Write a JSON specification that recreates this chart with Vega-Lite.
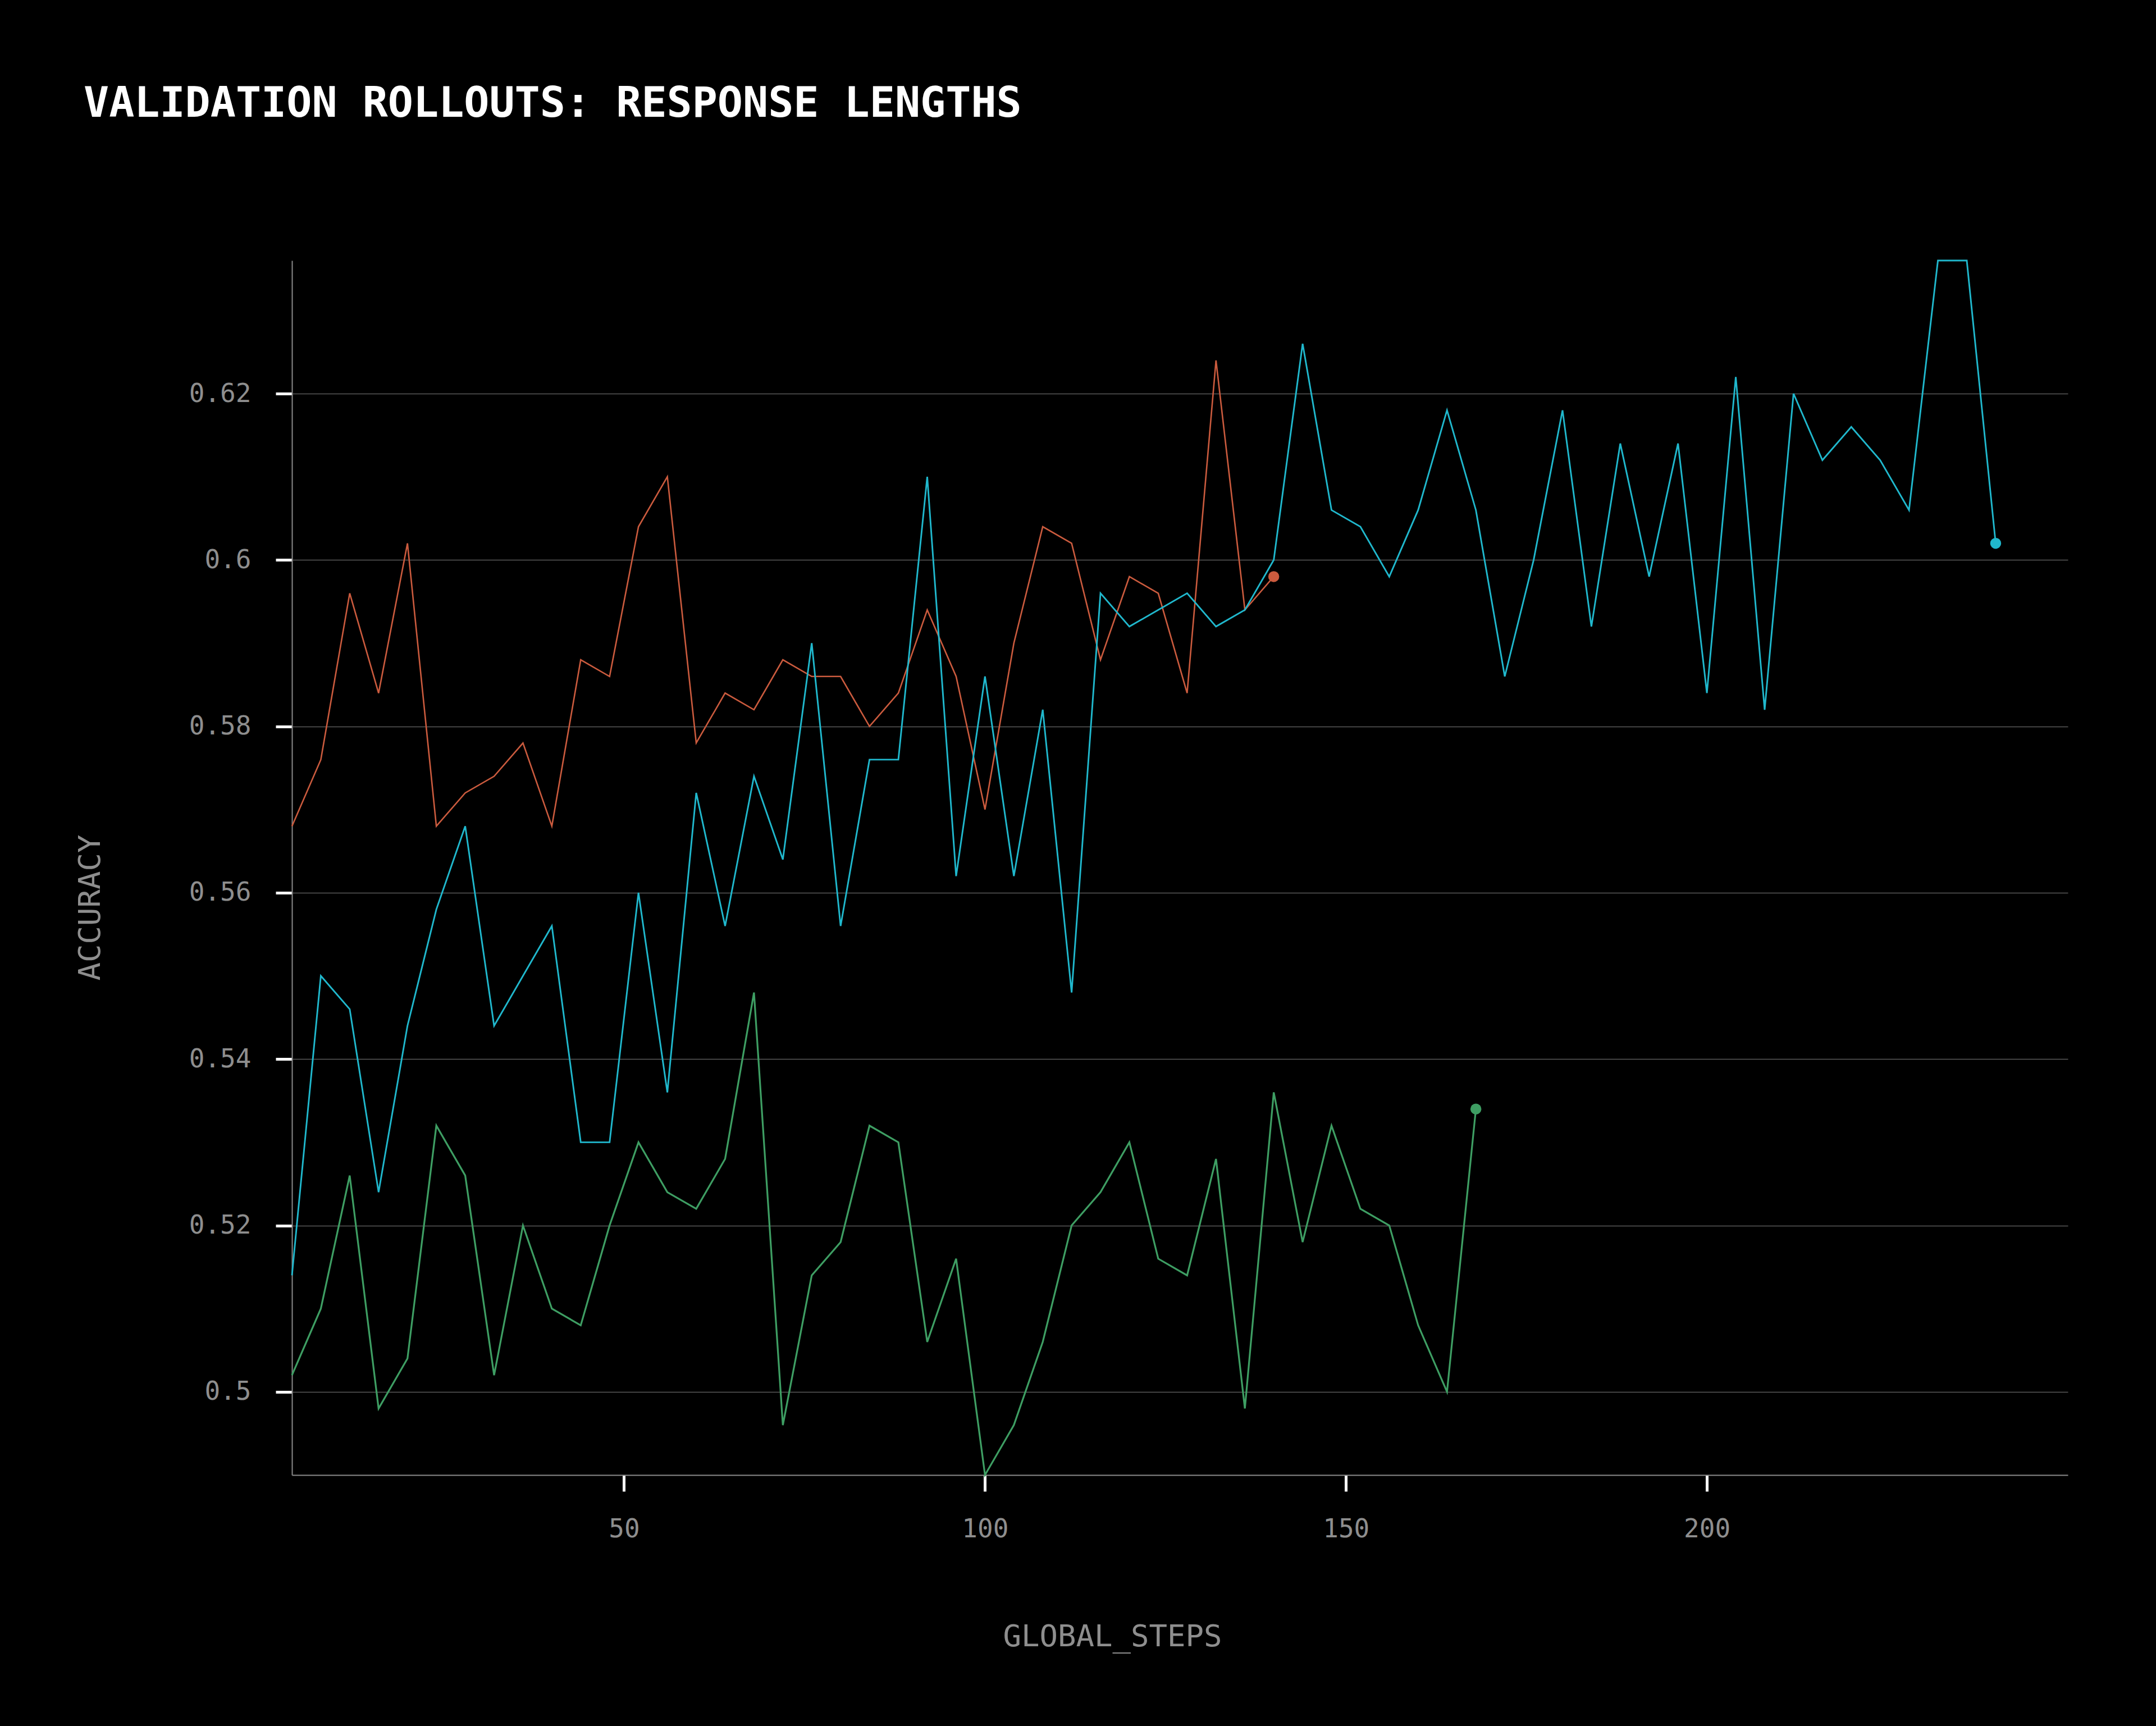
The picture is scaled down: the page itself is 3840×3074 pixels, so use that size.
{
  "$schema": "https://vega.github.io/schema/vega-lite/v6.json",
  "width": 3163,
  "height": 2163,
  "autosize": {"type": "none"},
  "padding": {"left": 520, "top": 464, "right": 157, "bottom": 447},
  "background": "#000000",
  "title": {
    "text": "VALIDATION ROLLOUTS: RESPONSE LENGTHS",
    "anchor": "start",
    "frame": "group",
    "dx": -371,
    "offset": 175,
    "baseline": "alphabetic",
    "font": "DejaVu Sans Mono",
    "fontSize": 75,
    "fontWeight": "bold",
    "color": "#ffffff"
  },
  "data": {
    "values": [
      {"series": "run_a", "step": 4, "accuracy": 0.568},
      {"series": "run_a", "step": 8, "accuracy": 0.576},
      {"series": "run_a", "step": 12, "accuracy": 0.596},
      {"series": "run_a", "step": 16, "accuracy": 0.584},
      {"series": "run_a", "step": 20, "accuracy": 0.602},
      {"series": "run_a", "step": 24, "accuracy": 0.568},
      {"series": "run_a", "step": 28, "accuracy": 0.572},
      {"series": "run_a", "step": 32, "accuracy": 0.574},
      {"series": "run_a", "step": 36, "accuracy": 0.578},
      {"series": "run_a", "step": 40, "accuracy": 0.568},
      {"series": "run_a", "step": 44, "accuracy": 0.588},
      {"series": "run_a", "step": 48, "accuracy": 0.586},
      {"series": "run_a", "step": 52, "accuracy": 0.604},
      {"series": "run_a", "step": 56, "accuracy": 0.610},
      {"series": "run_a", "step": 60, "accuracy": 0.578},
      {"series": "run_a", "step": 64, "accuracy": 0.584},
      {"series": "run_a", "step": 68, "accuracy": 0.582},
      {"series": "run_a", "step": 72, "accuracy": 0.588},
      {"series": "run_a", "step": 76, "accuracy": 0.586},
      {"series": "run_a", "step": 80, "accuracy": 0.586},
      {"series": "run_a", "step": 84, "accuracy": 0.580},
      {"series": "run_a", "step": 88, "accuracy": 0.584},
      {"series": "run_a", "step": 92, "accuracy": 0.594},
      {"series": "run_a", "step": 96, "accuracy": 0.586},
      {"series": "run_a", "step": 100, "accuracy": 0.570},
      {"series": "run_a", "step": 104, "accuracy": 0.590},
      {"series": "run_a", "step": 108, "accuracy": 0.604},
      {"series": "run_a", "step": 112, "accuracy": 0.602},
      {"series": "run_a", "step": 116, "accuracy": 0.588},
      {"series": "run_a", "step": 120, "accuracy": 0.598},
      {"series": "run_a", "step": 124, "accuracy": 0.596},
      {"series": "run_a", "step": 128, "accuracy": 0.584},
      {"series": "run_a", "step": 132, "accuracy": 0.624},
      {"series": "run_a", "step": 136, "accuracy": 0.594},
      {"series": "run_a", "step": 140, "accuracy": 0.598},
      {"series": "run_b", "step": 4, "accuracy": 0.514},
      {"series": "run_b", "step": 8, "accuracy": 0.550},
      {"series": "run_b", "step": 12, "accuracy": 0.546},
      {"series": "run_b", "step": 16, "accuracy": 0.524},
      {"series": "run_b", "step": 20, "accuracy": 0.544},
      {"series": "run_b", "step": 24, "accuracy": 0.558},
      {"series": "run_b", "step": 28, "accuracy": 0.568},
      {"series": "run_b", "step": 32, "accuracy": 0.544},
      {"series": "run_b", "step": 36, "accuracy": 0.550},
      {"series": "run_b", "step": 40, "accuracy": 0.556},
      {"series": "run_b", "step": 44, "accuracy": 0.530},
      {"series": "run_b", "step": 48, "accuracy": 0.530},
      {"series": "run_b", "step": 52, "accuracy": 0.560},
      {"series": "run_b", "step": 56, "accuracy": 0.536},
      {"series": "run_b", "step": 60, "accuracy": 0.572},
      {"series": "run_b", "step": 64, "accuracy": 0.556},
      {"series": "run_b", "step": 68, "accuracy": 0.574},
      {"series": "run_b", "step": 72, "accuracy": 0.564},
      {"series": "run_b", "step": 76, "accuracy": 0.590},
      {"series": "run_b", "step": 80, "accuracy": 0.556},
      {"series": "run_b", "step": 84, "accuracy": 0.576},
      {"series": "run_b", "step": 88, "accuracy": 0.576},
      {"series": "run_b", "step": 92, "accuracy": 0.610},
      {"series": "run_b", "step": 96, "accuracy": 0.562},
      {"series": "run_b", "step": 100, "accuracy": 0.586},
      {"series": "run_b", "step": 104, "accuracy": 0.562},
      {"series": "run_b", "step": 108, "accuracy": 0.582},
      {"series": "run_b", "step": 112, "accuracy": 0.548},
      {"series": "run_b", "step": 116, "accuracy": 0.596},
      {"series": "run_b", "step": 120, "accuracy": 0.592},
      {"series": "run_b", "step": 124, "accuracy": 0.594},
      {"series": "run_b", "step": 128, "accuracy": 0.596},
      {"series": "run_b", "step": 132, "accuracy": 0.592},
      {"series": "run_b", "step": 136, "accuracy": 0.594},
      {"series": "run_b", "step": 140, "accuracy": 0.600},
      {"series": "run_b", "step": 144, "accuracy": 0.626},
      {"series": "run_b", "step": 148, "accuracy": 0.606},
      {"series": "run_b", "step": 152, "accuracy": 0.604},
      {"series": "run_b", "step": 156, "accuracy": 0.598},
      {"series": "run_b", "step": 160, "accuracy": 0.606},
      {"series": "run_b", "step": 164, "accuracy": 0.618},
      {"series": "run_b", "step": 168, "accuracy": 0.606},
      {"series": "run_b", "step": 172, "accuracy": 0.586},
      {"series": "run_b", "step": 176, "accuracy": 0.600},
      {"series": "run_b", "step": 180, "accuracy": 0.618},
      {"series": "run_b", "step": 184, "accuracy": 0.592},
      {"series": "run_b", "step": 188, "accuracy": 0.614},
      {"series": "run_b", "step": 192, "accuracy": 0.598},
      {"series": "run_b", "step": 196, "accuracy": 0.614},
      {"series": "run_b", "step": 200, "accuracy": 0.584},
      {"series": "run_b", "step": 204, "accuracy": 0.622},
      {"series": "run_b", "step": 208, "accuracy": 0.582},
      {"series": "run_b", "step": 212, "accuracy": 0.620},
      {"series": "run_b", "step": 216, "accuracy": 0.612},
      {"series": "run_b", "step": 220, "accuracy": 0.616},
      {"series": "run_b", "step": 224, "accuracy": 0.612},
      {"series": "run_b", "step": 228, "accuracy": 0.606},
      {"series": "run_b", "step": 232, "accuracy": 0.636},
      {"series": "run_b", "step": 236, "accuracy": 0.636},
      {"series": "run_b", "step": 240, "accuracy": 0.602},
      {"series": "run_c", "step": 4, "accuracy": 0.502},
      {"series": "run_c", "step": 8, "accuracy": 0.510},
      {"series": "run_c", "step": 12, "accuracy": 0.526},
      {"series": "run_c", "step": 16, "accuracy": 0.498},
      {"series": "run_c", "step": 20, "accuracy": 0.504},
      {"series": "run_c", "step": 24, "accuracy": 0.532},
      {"series": "run_c", "step": 28, "accuracy": 0.526},
      {"series": "run_c", "step": 32, "accuracy": 0.502},
      {"series": "run_c", "step": 36, "accuracy": 0.520},
      {"series": "run_c", "step": 40, "accuracy": 0.510},
      {"series": "run_c", "step": 44, "accuracy": 0.508},
      {"series": "run_c", "step": 48, "accuracy": 0.520},
      {"series": "run_c", "step": 52, "accuracy": 0.530},
      {"series": "run_c", "step": 56, "accuracy": 0.524},
      {"series": "run_c", "step": 60, "accuracy": 0.522},
      {"series": "run_c", "step": 64, "accuracy": 0.528},
      {"series": "run_c", "step": 68, "accuracy": 0.548},
      {"series": "run_c", "step": 72, "accuracy": 0.496},
      {"series": "run_c", "step": 76, "accuracy": 0.514},
      {"series": "run_c", "step": 80, "accuracy": 0.518},
      {"series": "run_c", "step": 84, "accuracy": 0.532},
      {"series": "run_c", "step": 88, "accuracy": 0.530},
      {"series": "run_c", "step": 92, "accuracy": 0.506},
      {"series": "run_c", "step": 96, "accuracy": 0.516},
      {"series": "run_c", "step": 100, "accuracy": 0.490},
      {"series": "run_c", "step": 104, "accuracy": 0.496},
      {"series": "run_c", "step": 108, "accuracy": 0.506},
      {"series": "run_c", "step": 112, "accuracy": 0.520},
      {"series": "run_c", "step": 116, "accuracy": 0.524},
      {"series": "run_c", "step": 120, "accuracy": 0.530},
      {"series": "run_c", "step": 124, "accuracy": 0.516},
      {"series": "run_c", "step": 128, "accuracy": 0.514},
      {"series": "run_c", "step": 132, "accuracy": 0.528},
      {"series": "run_c", "step": 136, "accuracy": 0.498},
      {"series": "run_c", "step": 140, "accuracy": 0.536},
      {"series": "run_c", "step": 144, "accuracy": 0.518},
      {"series": "run_c", "step": 148, "accuracy": 0.532},
      {"series": "run_c", "step": 152, "accuracy": 0.522},
      {"series": "run_c", "step": 156, "accuracy": 0.520},
      {"series": "run_c", "step": 160, "accuracy": 0.508},
      {"series": "run_c", "step": 164, "accuracy": 0.500},
      {"series": "run_c", "step": 168, "accuracy": 0.534}
    ]
  },
  "encoding": {
    "x": {
      "field": "step",
      "type": "quantitative",
      "scale": {"domain": [4, 250], "nice": false, "zero": false},
      "axis": {
        "values": [50, 100, 150, 200],
        "grid": false,
        "title": "GLOBAL_STEPS",
        "labelPadding": 45,
        "titleX": 1461,
        "titleY": 288,
        "titleAlign": "center",
        "titleBaseline": "middle",
        "titleAngle": 0
      }
    },
    "y": {
      "field": "accuracy",
      "type": "quantitative",
      "scale": {"domain": [0.49, 0.636], "nice": false, "zero": false},
      "axis": {
        "values": [0.5, 0.52, 0.54, 0.56, 0.58, 0.6, 0.62],
        "format": ".2~f",
        "grid": true,
        "title": "ACCURACY",
        "labelPadding": 44,
        "titleX": -359,
        "titleY": 1152,
        "titleAngle": 270,
        "titleAlign": "center",
        "titleBaseline": "middle"
      }
    },
    "color": {
      "field": "series",
      "type": "nominal",
      "scale": {"domain": ["run_a", "run_b", "run_c"], "range": ["#CB5B3E", "#20B8CD", "#3E9E63"]},
      "legend": null
    }
  },
  "layer": [
    {
      "mark": {"type": "line", "clip": false},
      "encoding": {
        "strokeWidth": {
          "field": "series",
          "type": "nominal",
          "scale": {"domain": ["run_a", "run_b", "run_c"], "range": [2.6, 3.2, 2.4]},
          "legend": null
        }
      }
    },
    {
      "transform": [
        {"joinaggregate": [{"op": "max", "field": "step", "as": "last_step"}], "groupby": ["series"]},
        {"filter": "datum.step === datum.last_step"}
      ],
      "mark": {"type": "circle", "size": 380, "opacity": 1, "clip": false}
    }
  ],
  "config": {
    "view": {"stroke": null},
    "axis": {
      "domainColor": "#8a8a8a",
      "domainWidth": 2,
      "tickColor": "#ffffff",
      "tickSize": 29,
      "tickWidth": 5,
      "gridColor": "#5a5a5a",
      "gridWidth": 1.5,
      "labelFont": "DejaVu Sans Mono",
      "labelFontSize": 46,
      "labelColor": "#8e8e8e",
      "titleFont": "DejaVu Sans Mono",
      "titleFontSize": 54,
      "titleFontWeight": "normal",
      "titleColor": "#8e8e8e"
    }
  }
}
